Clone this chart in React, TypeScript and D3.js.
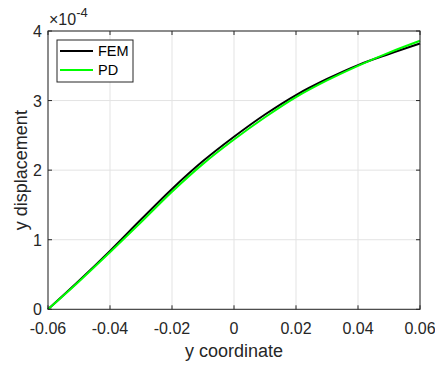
import React from "react";
import * as d3 from "d3";

const xs = [-0.06, -0.05, -0.04, -0.03, -0.02, -0.01, 0, 0.01, 0.02, 0.03, 0.04, 0.05, 0.06];
const femValues = [0, 0.41, 0.84, 1.29, 1.73, 2.13, 2.48, 2.80, 3.08, 3.31, 3.51, 3.67, 3.82];
const pdValues = [0, 0.40, 0.82, 1.25, 1.69, 2.09, 2.44, 2.76, 3.05, 3.29, 3.50, 3.69, 3.86];
const xTicks = [-0.06, -0.04, -0.02, 0, 0.02, 0.04, 0.06];
const xTickLabels = ["-0.06", "-0.04", "-0.02", "0", "0.02", "0.04", "0.06"];
const yTicks = [0, 1, 2, 3, 4];
const seriesNames = ["FEM", "PD"];
const seriesColors = ["#000000", "#00ff00"];

const W = 435, H = 367;
const L = 48, R = 420, T = 31, B = 309.3;
const font = "'Liberation Sans', Arial, sans-serif";

export default function App() {
  const x = d3.scaleLinear().domain([-0.06, 0.06]).range([L, R]);
  const y = d3.scaleLinear().domain([0, 4]).range([B, T]);
  const line = d3
    .line<number>()
    .x((_, i) => x(xs[i]))
    .y((d) => y(d))
    .curve(d3.curveCatmullRom);
  const series = [femValues, pdValues];
  const axisColor = "#262626";
  const tickLen = 4;
  return (
    <svg
      width={W}
      height={H}
      style={{ position: "absolute", left: 0, top: 0, background: "#fff" }}
      fontFamily={font}
    >
      <rect x={L} y={T} width={R - L} height={B - T} fill="#fff" />
      {xTicks.map((t, i) => (
        <line key={"gx" + i} x1={x(t)} x2={x(t)} y1={T} y2={B} stroke="#e3e3e3" strokeWidth={1} />
      ))}
      {yTicks.map((t, i) => (
        <line key={"gy" + i} x1={L} x2={R} y1={y(t)} y2={y(t)} stroke="#e3e3e3" strokeWidth={1} />
      ))}
      {series.map((s, i) => (
        <path key={"s" + i} d={line(s) || ""} fill="none" stroke={seriesColors[i]} strokeWidth={2} />
      ))}
      <rect x={L} y={T} width={R - L} height={B - T} fill="none" stroke={axisColor} strokeWidth={1} />
      {xTicks.map((t, i) => (
        <g key={"tx" + i}>
          <line x1={x(t)} x2={x(t)} y1={B} y2={B - tickLen} stroke={axisColor} />
          <line x1={x(t)} x2={x(t)} y1={T} y2={T + tickLen} stroke={axisColor} />
          <text x={x(t)} y={B + 25} textAnchor="middle" fontSize={16} fill={axisColor}>
            {xTickLabels[i]}
          </text>
        </g>
      ))}
      {yTicks.map((t, i) => (
        <g key={"ty" + i}>
          <line x1={L} x2={L + tickLen} y1={y(t)} y2={y(t)} stroke={axisColor} />
          <line x1={R} x2={R - tickLen} y1={y(t)} y2={y(t)} stroke={axisColor} />
          <text x={L - 6} y={y(t) + 6} textAnchor="end" fontSize={16} fill={axisColor}>
            {t}
          </text>
        </g>
      ))}
      <text x={L + 1} y={25} fontSize={16} fill={axisColor}>
        ×10
        <tspan dy={-8} fontSize={13}>-4</tspan>
      </text>
      <text x={(L + R) / 2} y={357} textAnchor="middle" fontSize={18} fill={axisColor}>
        y coordinate
      </text>
      <text
        transform={`translate(${27},${(T + B) / 2}) rotate(-90)`}
        textAnchor="middle"
        fontSize={18}
        fill={axisColor}
      >
        y displacement
      </text>
      <rect x={57} y={40} width={76} height={42} fill="#fff" stroke={axisColor} strokeWidth={1} />
      {seriesNames.map((n, i) => (
        <g key={"lg" + i}>
          <line x1={60} x2={93} y1={51 + i * 19} y2={51 + i * 19} stroke={seriesColors[i]} strokeWidth={2} />
          <text x={98} y={51 + i * 19 + 5} fontSize={14.5} fill="#000">
            {n}
          </text>
        </g>
      ))}
    </svg>
  );
}
